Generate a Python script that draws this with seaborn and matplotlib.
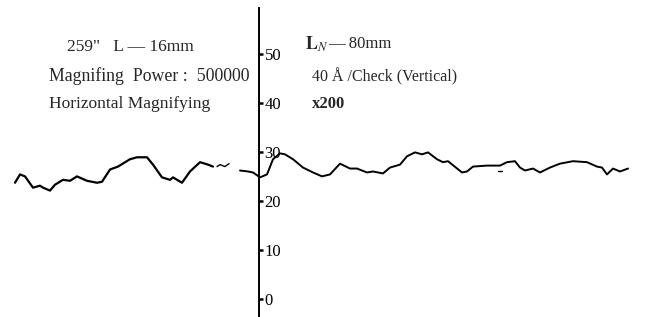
import matplotlib
matplotlib.use("Agg")
import matplotlib.pyplot as plt
import seaborn as sns
import pandas as pd

# profile trace (x = position along the profile, y = axis units)
seg_a_x = [15, 20, 25, 33, 40, 43, 50, 55, 63, 70, 77, 87, 97, 102, 110, 118, 130, 137,
           147, 153, 162, 170, 173, 182, 190, 200, 208, 213]
seg_a_y = [23.7, 25.4, 25.0, 22.7, 23.1, 22.7, 22.1, 23.3, 24.3, 24.1, 25.0, 24.1, 23.7,
           23.9, 26.4, 27.0, 28.5, 28.9, 28.9, 27.4, 24.8, 24.3, 24.8, 23.7, 26.0, 27.9,
           27.4, 27.0]

seg_b_x = [217, 220, 225, 229]
seg_b_y = [27.0, 27.4, 27.0, 27.6]

seg_c_x = [240, 248, 253, 260, 267, 273, 280, 285, 293, 303, 313, 322, 330, 340, 350, 357,
           367, 373, 383, 390, 400, 407, 415, 422, 428, 437, 443, 448, 462, 467, 473, 487,
           500, 507, 515, 520, 525, 533, 540, 550, 560, 573, 587, 597, 602, 607, 613, 620,
           628]
seg_c_y = [26.2, 26.0, 25.8, 24.8, 25.4, 28.5, 29.7, 29.5, 28.5, 26.8, 25.8, 25.0, 25.4,
           27.6, 26.6, 26.6, 25.8, 26.0, 25.6, 26.8, 27.4, 29.1, 29.9, 29.5, 29.9, 28.5,
           27.9, 28.1, 25.8, 26.0, 27.0, 27.2, 27.2, 27.9, 28.1, 26.8, 26.2, 26.6, 25.8,
           26.8, 27.6, 28.1, 27.9, 27.0, 26.8, 25.4, 26.6, 26.0, 26.6]

y_ticks = [0, 10, 20, 30, 40, 50]
axis_x = 259

sns.set_style("white")
plt.rcParams['font.family'] = ['Liberation Serif', 'DejaVu Serif']
plt.rcParams['mathtext.fontset'] = 'stix'

fig = plt.figure(figsize=(6.53, 3.17), dpi=100)
ax = fig.add_axes([0, 0, 1, 1])

for xs, ys, lw in [(seg_a_x, seg_a_y, 1.6), (seg_b_x, seg_b_y, 1.0), (seg_c_x, seg_c_y, 1.4)]:
    d = pd.DataFrame({'x': xs, 'y': ys})
    sns.lineplot(data=d, x='x', y='y', ax=ax, color='black', linewidth=lw,
                 sort=False, estimator=None)

# tiny stray mark in the scan
ax.plot([498, 502], [26.2, 26.2], color='black', lw=1)

ax.set_xlim(0, 653)
ax.set_ylim(-3.7, 61.0)

for s in ['top', 'right', 'bottom']:
    ax.spines[s].set_visible(False)
ax.spines['left'].set_position(('data', axis_x))
ax.spines['left'].set_bounds(-3.7, 59.3)
ax.spines['left'].set_linewidth(1.4)
ax.spines['left'].set_color('black')

ax.set_xticks([])
ax.set_yticks(y_ticks)
ax.set_yticklabels([str(t) for t in y_ticks])
ax.tick_params(axis='y', left=True, direction='in', length=3, width=1.8, pad=-4,
               labelsize=12, colors='black')
for lab in ax.get_yticklabels():
    lab.set_ha('left')
ax.set_xlabel('')
ax.set_ylabel('')

# annotations
ax.text(67, 51.4, '259"   L — 16mm', fontsize=12.5, va='center', ha='left')
ax.text(49, 45.5, 'Magnifing  Power :  500000', fontsize=12.8, va='center', ha='left')
ax.text(49, 39.8, 'Horizontal Magnifying', fontsize=12.5, va='center', ha='left')
ax.text(305, 52.0, r'$\mathbf{L}_{N}$', fontsize=13, va='center', ha='left')
ax.text(328, 52.0, '— 80mm', fontsize=12, va='center', ha='left')
ax.text(312, 45.3, '40 Å /Check (Vertical)', fontsize=11.5, va='center', ha='left')
ax.text(312, 39.8, 'x200', fontsize=12, va='center', ha='left', fontweight='bold')

fig.savefig('out.png', dpi=100)
